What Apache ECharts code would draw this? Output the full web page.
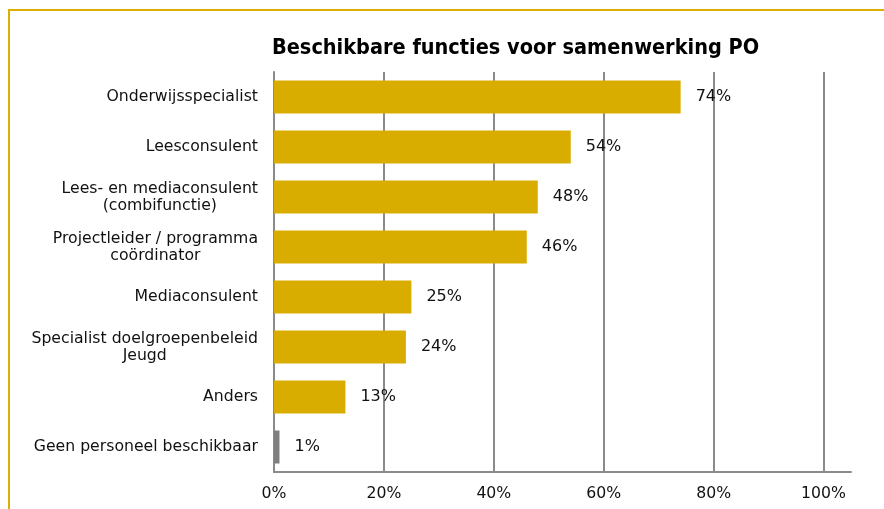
<!DOCTYPE html>
<html>
<head>
<meta charset="utf-8">
<script src="https://cdn.jsdelivr.net/npm/echarts@6/dist/echarts.min.js"></script>
<style>
  html, body { margin: 0; padding: 0; background: #fff; }
  .frame {
    position: absolute; left: 8px; top: 9px; right: 0; bottom: 0;
    border-top: 2px solid #dcb000; border-left: 2px solid #dcb000;
  }
  #chart { position: absolute; left: 0; top: 0; width: 884px; height: 509px; }
</style>
</head>
<body>
<div class="frame"></div>
<div id="chart"></div>
<script>
  // functies (van boven naar beneden)
  const categories = [
    'Onderwijsspecialist',
    'Leesconsulent',
    'Lees- en mediaconsulent\n(combifunctie)',
    'Projectleider / programma\ncoördinator',
    'Mediaconsulent',
    'Specialist doelgroepenbeleid\nJeugd',
    'Anders',
    'Geen personeel beschikbaar',
  ];
  // percentages
  const values = [74, 54, 48, 46, 25, 24, 13, 1];
  const xTicks = [0, 20, 40, 60, 80, 100];

  const gold = '#d9ad00';
  const grey = '#7f7f7f';

  const chart = echarts.init(document.getElementById('chart'));

  const option = {
    animation: false,
    title: {
      text: 'Beschikbare functies voor samenwerking PO',
      left: 267,
      top: 32,
      textStyle: {
        fontFamily: 'DejaVu Sans Condensed',
        fontWeight: 'bold',
        fontSize: 21.5,
        color: '#000',
      },
    },
    grid: {
      left: 274,
      right: 33,
      top: 72,
      bottom: 37,
    },
    xAxis: {
      type: 'value',
      min: 0,
      max: 105,
      interval: 20,
      axisLine: { show: true, lineStyle: { color: '#8a8a8a', width: 2 } },
      axisTick: { show: false },
      splitLine: {
        show: true,
        showMaxLine: false,
        lineStyle: { color: '#8a8a8a', width: 2 },
      },
      axisLabel: {
        showMaxLabel: false,
        margin: 14,
        fontFamily: 'DejaVu Sans',
        fontSize: 15.7,
        color: '#111',
        formatter: (v) => (xTicks.includes(v) ? v + '%' : ''),
      },
    },
    yAxis: {
      type: 'category',
      inverse: true,
      data: categories,
      axisLine: { show: true, lineStyle: { color: '#8a8a8a', width: 2 } },
      axisTick: { show: false },
      axisLabel: {
        margin: 16,
        fontFamily: 'DejaVu Sans',
        fontSize: 15.7,
        color: '#111',
        lineHeight: 17,
        formatter: (v) => v.split('\n').map((s) => '{c|' + s + '}').join('\n'),
        rich: {
          c: {
            align: 'center',
            fontFamily: 'DejaVu Sans',
            fontSize: 15.7,
            lineHeight: 17,
            color: '#111',
          },
        },
      },
    },
    series: [
      {
        type: 'bar',
        barWidth: 33,
        data: values.map((v, i) => ({
          value: v,
          itemStyle: {
            color: categories[i] === 'Geen personeel beschikbaar' ? grey : gold,
          },
        })),
        label: {
          show: true,
          position: 'right',
          distance: 15,
          formatter: '{c}%',
          fontFamily: 'DejaVu Sans',
          fontSize: 16,
          color: '#111',
        },
      },
    ],
  };

  chart.setOption(option);
</script>
</body>
</html>
